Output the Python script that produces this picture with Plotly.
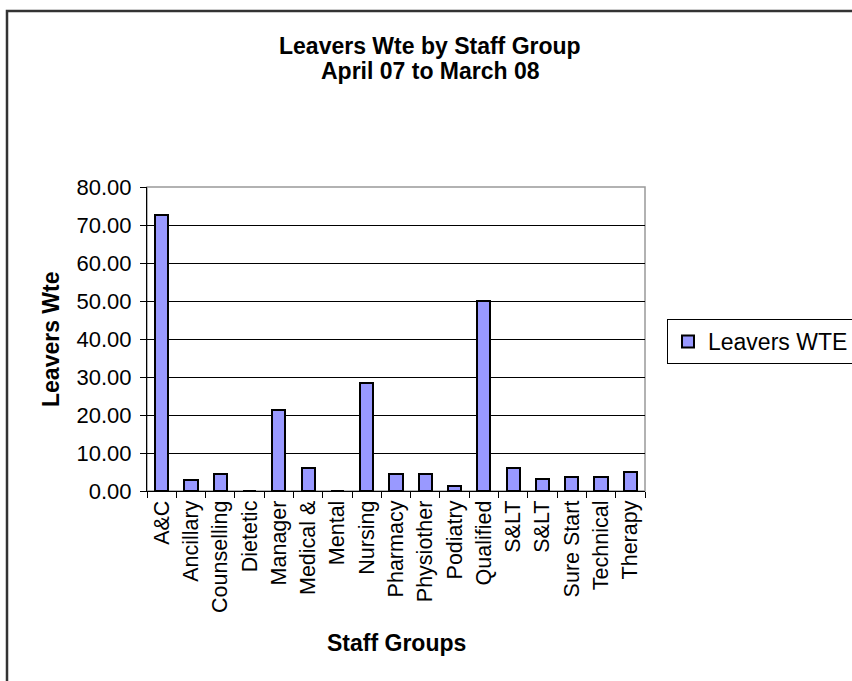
import plotly.graph_objects as go

categories = ["A&C", "Ancillary", "Counselling", "Dietetic", "Manager", "Medical &",
              "Mental", "Nursing", "Pharmacy", "Physiother", "Podiatry", "Qualified",
              "S&LT", "S&LT", "Sure Start", "Technical", "Therapy"]
leavers_wte = [72.6, 2.8, 4.4, 0.0, 21.2, 6.0, 0.0, 28.4, 4.4, 4.4, 1.2, 50.0,
               6.0, 3.2, 3.8, 3.8, 4.9]
y_ticks = [0, 10, 20, 30, 40, 50, 60, 70, 80]

positions = list(range(len(categories)))
FONT = "Liberation Sans, Arial, sans-serif"

fig = go.Figure()
fig.add_trace(go.Bar(
    x=positions, y=leavers_wte, name="Leavers WTE", width=0.45,
    marker=dict(color="#9999FF", line=dict(color="black", width=2)),
))

L, R, T, B = 147, 207, 187, 190
W, H = 852, 681
pw, ph = W - L - R, H - T - B

def px(x):
    return (x - L) / pw

def py(y):
    return (H - B - y) / ph

fig.update_layout(
    width=W, height=H,
    margin=dict(l=L, r=R, t=T, b=B, pad=0, autoexpand=False),
    paper_bgcolor="white", plot_bgcolor="white",
    font=dict(family=FONT, color="black", size=22),
    showlegend=True,
    legend=dict(x=px(667), y=py(319), xanchor="left", yanchor="top",
                bordercolor="black", borderwidth=1, bgcolor="white",
                font=dict(size=23, family=FONT)),
    bargap=0,
    xaxis=dict(
        range=[-0.5, len(categories) - 0.5], automargin=False,
        tickmode="array", tickvals=positions, ticktext=categories,
        tickangle=-90, ticks="", showgrid=False, zeroline=False,
        showline=True, linecolor="black", linewidth=1,
        tickfont=dict(size=21.5, family=FONT),
        minor=dict(ticks="outside", ticklen=6, tickcolor="black", tickwidth=1,
                   tick0=-0.5, dtick=1, showgrid=False),
    ),
    yaxis=dict(
        range=[0, 80], tickmode="array", tickvals=y_ticks, automargin=False,
        ticktext=[f"{v:.2f}" for v in y_ticks],
        ticks="outside", ticklen=6, tickcolor="black", ticklabelstandoff=4,
        showgrid=True, gridcolor="black", gridwidth=1,
        zeroline=False, showline=True, linecolor="black", linewidth=1,
        tickfont=dict(size=22, family=FONT),
    ),
    shapes=[
        dict(type="rect", xref="paper", yref="paper", x0=0, x1=1, y0=0, y1=1,
             line=dict(color="#999999", width=1.5), layer="below"),
        dict(type="rect", xref="paper", yref="paper",
             x0=px(7), x1=px(870), y0=py(700), y1=py(11),
             line=dict(color="#333333", width=2.5)),
    ],
    annotations=[
        dict(text="<b>Leavers Wte by Staff Group</b>", x=px(430), y=py(46),
             xref="paper", yref="paper", showarrow=False,
             font=dict(size=23, family=FONT), xanchor="center", yanchor="middle"),
        dict(text="<b>April 07 to March 08</b>", x=px(430), y=py(71),
             xref="paper", yref="paper", showarrow=False,
             font=dict(size=23, family=FONT), xanchor="center", yanchor="middle"),
        dict(text="<b>Leavers Wte</b>", x=px(51), y=0.5, textangle=-90,
             xref="paper", yref="paper", showarrow=False,
             font=dict(size=23, family=FONT), xanchor="center", yanchor="middle"),
        dict(text="<b>Staff Groups</b>", x=0.5, y=py(643),
             xref="paper", yref="paper", showarrow=False,
             font=dict(size=23, family=FONT), xanchor="center", yanchor="middle"),
    ],
)

fig.write_html("out.html")
